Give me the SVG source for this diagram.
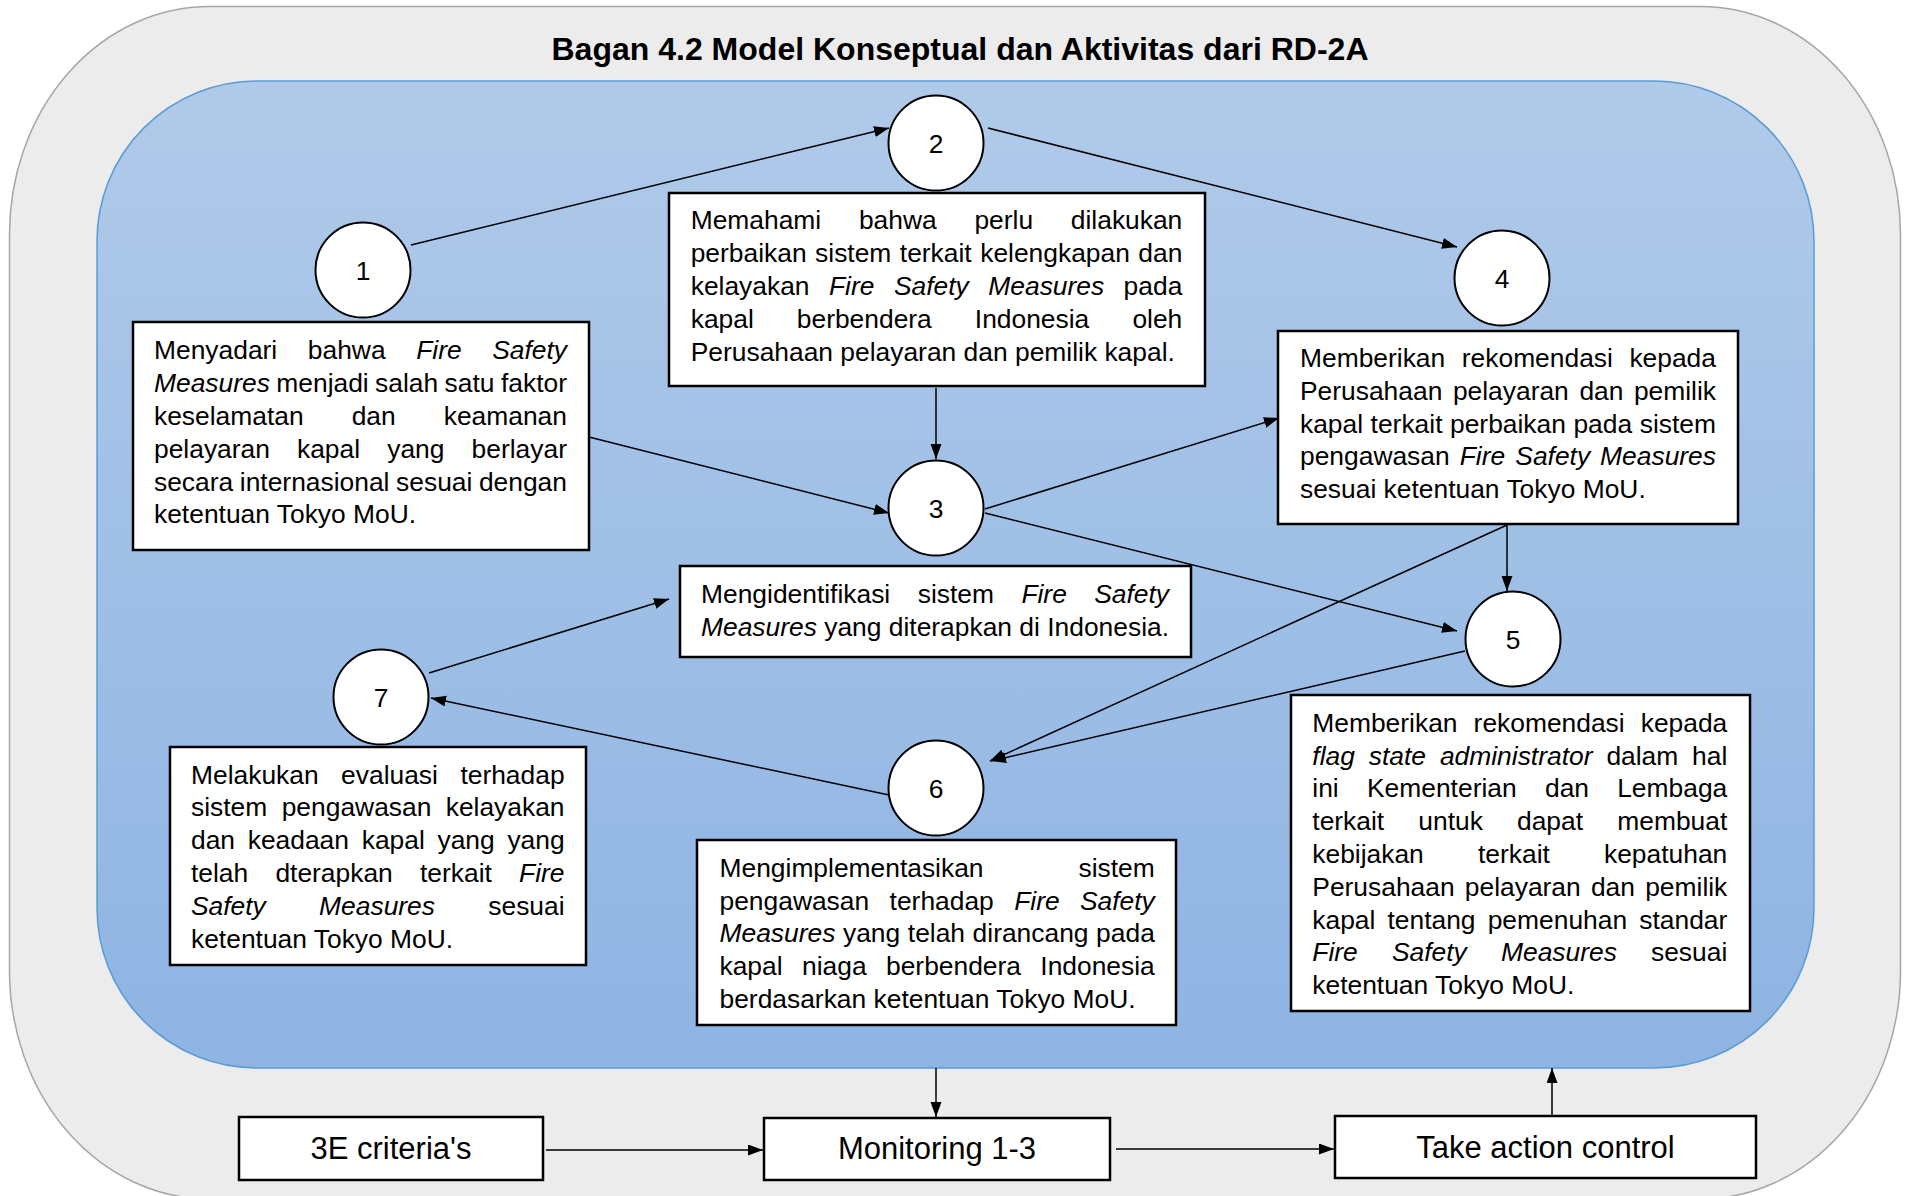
<svg xmlns="http://www.w3.org/2000/svg" width="1906" height="1196" viewBox="0 0 1906 1196">
<defs>
<linearGradient id="blueGrad" x1="0" y1="0" x2="0" y2="1">
<stop offset="0" stop-color="#b0cae9"/>
<stop offset="1" stop-color="#8eb4e3"/>
</linearGradient>
<marker id="ah" markerUnits="userSpaceOnUse" markerWidth="16" markerHeight="12" refX="15" refY="5.5" orient="auto">
<path d="M0,0 L15,5.5 L0,11 Z" fill="#000"/>
</marker>
<style>
.t{font-family:"Liberation Sans",Arial,sans-serif;font-size:26.4px;fill:#000}
.i{font-style:italic}
.box{fill:#fff;stroke:#000;stroke-width:2.5}
.circ{fill:#fff;stroke:#000;stroke-width:2}
.num{font-family:"Liberation Sans",Arial,sans-serif;font-size:26.4px;text-anchor:middle;fill:#000}
.big{font-family:"Liberation Sans",Arial,sans-serif;font-size:31px;text-anchor:middle;fill:#000}
.conn line{stroke:#000;stroke-width:1.5;marker-end:url(#ah)}
</style>
</defs>

<rect x="9.5" y="6.5" width="1891" height="1192.5" rx="200" ry="228" fill="#ececec" stroke="#a6a6a6" stroke-width="1.5"/>
<text x="960" y="60" font-family="'Liberation Sans',Arial,sans-serif" font-size="31" font-weight="bold" text-anchor="middle" textLength="817" lengthAdjust="spacingAndGlyphs">Bagan 4.2 Model Konseptual dan Aktivitas dari RD-2A</text>
<rect x="97" y="81" width="1717" height="987" rx="160" ry="160" fill="url(#blueGrad)" stroke="#5b9bd5" stroke-width="1.5"/>

<g id="connectors" class="conn">
<line x1="411" y1="245" x2="889" y2="128"/>
<line x1="988" y1="128" x2="1457" y2="247"/>
<line x1="936" y1="388" x2="936" y2="459"/>
<line x1="589" y1="437" x2="889" y2="513"/>
<line x1="985" y1="509" x2="1279" y2="418"/>
<line x1="985" y1="513" x2="1457" y2="631"/>
<line x1="1507" y1="525" x2="1507" y2="591"/>
<line x1="1507" y1="525" x2="990" y2="761"/>
<line x1="1465" y1="651" x2="991" y2="761"/>
<line x1="889" y1="795" x2="431" y2="698"/>
<line x1="429" y1="673" x2="669" y2="599"/>
<line x1="936" y1="1068" x2="936" y2="1117"/>
<line x1="546" y1="1150" x2="763" y2="1150"/>
<line x1="1116" y1="1149" x2="1334" y2="1149"/>
<line x1="1552" y1="1116" x2="1552" y2="1068"/>
</g>

<g id="node1"><circle class="circ" cx="363" cy="270" r="47.5"/><text class="num" x="363" y="279.5">1</text></g>
<g id="node2"><circle class="circ" cx="936" cy="143" r="47.5"/><text class="num" x="936" y="152.5">2</text></g>
<g id="node3"><circle class="circ" cx="936" cy="508" r="47.5"/><text class="num" x="936" y="517.5">3</text></g>
<g id="node4"><circle class="circ" cx="1502" cy="278" r="47.5"/><text class="num" x="1502" y="287.5">4</text></g>
<g id="node5"><circle class="circ" cx="1513" cy="639" r="47.5"/><text class="num" x="1513" y="648.5">5</text></g>
<g id="node6"><circle class="circ" cx="936" cy="788" r="47.5"/><text class="num" x="936" y="797.5">6</text></g>
<g id="node7"><circle class="circ" cx="381" cy="697" r="47.5"/><text class="num" x="381" y="706.5">7</text></g>

<g id="box1">
<rect class="box" x="133" y="322" width="456" height="228"/>
<text class="t" y="359.3"><tspan x="154">Menyadari</tspan><tspan x="307.8">bahwa</tspan><tspan x="416.2" class="i">Fire</tspan><tspan x="492.2" class="i">Safety</tspan></text>
<text class="t" y="392.1"><tspan x="154" class="i">Measures</tspan><tspan x="276.3">menjadi</tspan><tspan x="375.1">salah</tspan><tspan x="444.6">satu</tspan><tspan x="501">faktor</tspan></text>
<text class="t" y="424.9"><tspan x="154">keselamatan</tspan><tspan x="351.7">dan</tspan><tspan x="443.7">keamanan</tspan></text>
<text class="t" y="457.7"><tspan x="154">pelayaran</tspan><tspan x="297">kapal</tspan><tspan x="387.2">yang</tspan><tspan x="471.6">berlayar</tspan></text>
<text class="t" y="490.5"><tspan x="154">secara</tspan><tspan x="239.8">internasional</tspan><tspan x="396.1">sesuai</tspan><tspan x="478.9">dengan</tspan></text>
<text class="t" x="154" y="523.3">ketentuan Tokyo MoU.</text>
</g>

<g id="box2">
<rect class="box" x="669" y="193" width="536" height="193"/>
<text class="t" y="229.3"><tspan x="690.7">Memahami</tspan><tspan x="858.9">bahwa</tspan><tspan x="974.4">perlu</tspan><tspan x="1070.8">dilakukan</tspan></text>
<text class="t" y="262.1"><tspan x="690.7">perbaikan</tspan><tspan x="815.1">sistem</tspan><tspan x="899.8">terkait</tspan><tspan x="980.2">kelengkapan</tspan><tspan x="1138.3">dan</tspan></text>
<text class="t" y="294.9"><tspan x="690.7">kelayakan</tspan><tspan x="829" class="i">Fire</tspan><tspan x="894" class="i">Safety</tspan><tspan x="988.3" class="i">Measures</tspan><tspan x="1123.6">pada</tspan></text>
<text class="t" y="327.7"><tspan x="690.7">kapal</tspan><tspan x="796.8">berbendera</tspan><tspan x="974.8">Indonesia</tspan><tspan x="1132.4">oleh</tspan></text>
<text class="t" x="690.7" y="360.5">Perusahaan pelayaran dan pemilik kapal.</text>
</g>

<g id="box3">
<rect class="box" x="680" y="566" width="511" height="91"/>
<text class="t" y="603"><tspan x="701">Mengidentifikasi</tspan><tspan x="917.7">sistem</tspan><tspan x="1021.4" class="i">Fire</tspan><tspan x="1094.2" class="i">Safety</tspan></text>
<text class="t" x="701" y="635.8"><tspan class="i">Measures</tspan> yang diterapkan di Indonesia.</text>
</g>

<g id="box4">
<rect class="box" x="1278" y="331" width="460" height="193"/>
<text class="t" y="367"><tspan x="1300">Memberikan</tspan><tspan x="1461.8">rekomendasi</tspan><tspan x="1629.4">kepada</tspan></text>
<text class="t" y="399.8"><tspan x="1300">Perusahaan</tspan><tspan x="1452.9">pelayaran</tspan><tspan x="1579.4">dan</tspan><tspan x="1633.9">pemilik</tspan></text>
<text class="t" y="432.6"><tspan x="1300">kapal</tspan><tspan x="1370.6">terkait</tspan><tspan x="1450">perbaikan</tspan><tspan x="1573.4">pada</tspan><tspan x="1639.7">sistem</tspan></text>
<text class="t" y="465.4"><tspan x="1300">pengawasan</tspan><tspan x="1459.7" class="i">Fire</tspan><tspan x="1515.3" class="i">Safety</tspan><tspan x="1600.1" class="i">Measures</tspan></text>
<text class="t" x="1300" y="498.2">sesuai ketentuan Tokyo MoU.</text>
</g>

<g id="box5">
<rect class="box" x="1291" y="695" width="459" height="316"/>
<text class="t" y="731.7"><tspan x="1312.3">Memberikan</tspan><tspan x="1473.6">rekomendasi</tspan><tspan x="1640.7">kepada</tspan></text>
<text class="t" y="764.5"><tspan x="1312.3" class="i">flag</tspan><tspan x="1368.8" class="i">state</tspan><tspan x="1439.9" class="i">administrator</tspan><tspan x="1606.4">dalam</tspan><tspan x="1692.1">hal</tspan></text>
<text class="t" y="797.3"><tspan x="1312.3">ini</tspan><tspan x="1367">Kementerian</tspan><tspan x="1545">dan</tspan><tspan x="1617.2">Lembaga</tspan></text>
<text class="t" y="830.1"><tspan x="1312.3">terkait</tspan><tspan x="1418.3">untuk</tspan><tspan x="1517">dapat</tspan><tspan x="1617.3">membuat</tspan></text>
<text class="t" y="862.9"><tspan x="1312.3">kebijakan</tspan><tspan x="1478">terkait</tspan><tspan x="1604">kepatuhan</tspan></text>
<text class="t" y="895.7"><tspan x="1312.3">Perusahaan</tspan><tspan x="1464.8">pelayaran</tspan><tspan x="1590.9">dan</tspan><tspan x="1645.2">pemilik</tspan></text>
<text class="t" y="928.5"><tspan x="1312.3">kapal</tspan><tspan x="1387.5">tentang</tspan><tspan x="1487.7">pemenuhan</tspan><tspan x="1639.3">standar</tspan></text>
<text class="t" y="961.3"><tspan x="1312.3" class="i">Fire</tspan><tspan x="1392" class="i">Safety</tspan><tspan x="1501" class="i">Measures</tspan><tspan x="1651">sesuai</tspan></text>
<text class="t" x="1312.3" y="994.1">ketentuan Tokyo MoU.</text>
</g>

<g id="box6">
<rect class="box" x="697" y="840" width="479" height="185"/>
<text class="t" y="876.7"><tspan x="719.5">Mengimplementasikan</tspan><tspan x="1078.5">sistem</tspan></text>
<text class="t" y="909.5"><tspan x="719.5">pengawasan</tspan><tspan x="889.6">terhadap</tspan><tspan x="1014.2" class="i">Fire</tspan><tspan x="1080" class="i">Safety</tspan></text>
<text class="t" y="942.3"><tspan x="719.5" class="i">Measures</tspan><tspan x="843">yang</tspan><tspan x="907.8">telah</tspan><tspan x="972.6">dirancang</tspan><tspan x="1096.1">pada</tspan></text>
<text class="t" y="975.1"><tspan x="719.5">kapal</tspan><tspan x="802">niaga</tspan><tspan x="886">berbendera</tspan><tspan x="1040.3">Indonesia</tspan></text>
<text class="t" x="719.5" y="1007.9">berdasarkan ketentuan Tokyo MoU.</text>
</g>

<g id="box7">
<rect class="box" x="170" y="747" width="416" height="218"/>
<text class="t" y="783.5"><tspan x="191">Melakukan</tspan><tspan x="341.1">evaluasi</tspan><tspan x="460.4">terhadap</tspan></text>
<text class="t" y="816.3"><tspan x="191">sistem</tspan><tspan x="281.7">pengawasan</tspan><tspan x="445.7">kelayakan</tspan></text>
<text class="t" y="849.1"><tspan x="191">dan</tspan><tspan x="247.7">keadaan</tspan><tspan x="361.7">kapal</tspan><tspan x="437.5">yang</tspan><tspan x="507.4">yang</tspan></text>
<text class="t" y="881.9"><tspan x="191">telah</tspan><tspan x="275.4">dterapkan</tspan><tspan x="420">terkait</tspan><tspan x="519.1" class="i">Fire</tspan></text>
<text class="t" y="914.7"><tspan x="191" class="i">Safety</tspan><tspan x="319.1" class="i">Measures</tspan><tspan x="488.3">sesuai</tspan></text>
<text class="t" x="191" y="947.5">ketentuan Tokyo MoU.</text>
</g>

<g id="criteria">
<rect class="box" x="239" y="1117" width="304" height="63"/>
<text class="big" x="391" y="1159">3E criteria's</text>
</g>
<g id="monitoring">
<rect class="box" x="764" y="1118" width="346" height="62"/>
<text class="big" x="937" y="1159">Monitoring 1-3</text>
</g>
<g id="takeaction">
<rect class="box" x="1335" y="1116" width="421" height="62"/>
<text class="big" x="1545.5" y="1158">Take action control</text>
</g>
</svg>
